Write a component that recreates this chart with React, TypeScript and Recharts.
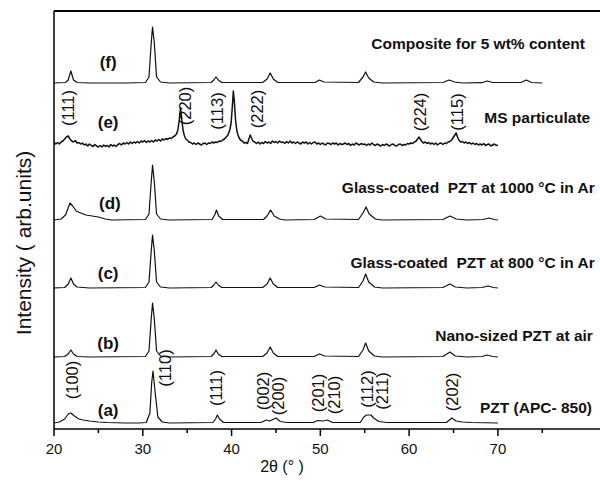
import React from "react";
import { LineChart, Line, XAxis, YAxis, ReferenceLine, ReferenceDot } from "recharts";

type Pt = [number, number];

// 2θ (deg), intensity above each trace's own baseline (arb.)
const traceA: Pt[] = [
  [20, 0], [20.6, 1], [21.2, 4], [21.6, 9], [21.9, 10], [22.3, 7], [22.8, 4], [23.3, 3], [24, 2], [25, 1],
  [26, 0.5], [28, 0], [29.5, 0], [30.4, 0.5], [30.8, 10], [31.0, 40], [31.15, 52], [31.4, 30], [31.7, 6],
  [32.2, 1], [33, 0], [37.9, 0.5], [38.2, 4], [38.4, 8], [38.65, 4], [39.1, 0.5], [43.3, 0.5], [43.9, 3],
  [44.3, 2], [45.0, 5], [45.5, 1.5], [46.2, 0.5], [49.2, 0.5], [49.7, 2.5], [50.3, 2], [50.8, 3], [51.4, 0.5],
  [54.5, 0.5], [54.9, 6], [55.2, 8], [55.7, 8], [56.0, 5], [56.6, 1.5], [57.5, 0.5], [64.2, 0.5], [64.8, 5],
  [65.3, 2], [66, 1], [67, 0.5], [70, 0],
];

const traceB: Pt[] = [
  [20, 0], [21.2, 0.5], [21.6, 3], [21.9, 7], [22.2, 3], [22.6, 0.5], [24, 0], [30.3, 0.5], [30.7, 6],
  [30.95, 38], [31.1, 54], [31.3, 38], [31.55, 6], [32, 1], [33, 0], [37.7, 0.5], [38.0, 3], [38.25, 7],
  [38.5, 3], [38.9, 0.5], [43.5, 0.5], [44.0, 4], [44.35, 10], [44.7, 4], [45.2, 0.5], [49.3, 0.5],
  [49.9, 3], [50.5, 1], [54.3, 0.5], [54.8, 7], [55.1, 14], [55.45, 6], [56.1, 1], [57, 0], [63.8, 0.5],
  [64.6, 5], [65.2, 1], [66.5, 0], [68.2, 0.5], [68.8, 2], [69.4, 0.5], [70, 0],
];

const traceC: Pt[] = [
  [20, 0], [21.2, 0.5], [21.6, 4], [21.9, 10], [22.2, 4], [22.6, 1], [24, 0], [30.3, 0.5], [30.7, 6],
  [30.95, 37], [31.1, 53], [31.3, 37], [31.55, 6], [32, 1], [33, 0], [37.7, 0.5], [38.0, 3], [38.25, 6],
  [38.5, 3], [38.9, 0.5], [43.5, 0.5], [44.0, 4], [44.35, 10], [44.7, 4], [45.2, 0.5], [49.3, 0.5],
  [49.9, 3], [50.5, 1], [54.3, 0.5], [54.8, 7], [55.1, 14], [55.45, 6], [56.1, 1], [57, 0], [63.8, 0.5],
  [64.6, 4], [65.2, 1], [66.5, 0], [68.2, 0.5], [68.9, 2], [69.5, 0.5], [70, 0],
];

const traceD: Pt[] = [
  [20, 0], [20.8, 1], [21.3, 5], [21.8, 17], [22.1, 14], [22.5, 9], [23, 7], [23.6, 5], [24.3, 4], [25, 3],
  [25.8, 1], [26.5, 0], [30.3, 0.5], [30.7, 6], [30.95, 38], [31.1, 55], [31.3, 38], [31.55, 6], [32, 1],
  [33, 0], [37.8, 0.5], [38.1, 5], [38.3, 10], [38.55, 4], [39, 0.5], [43.6, 0.5], [44.0, 4], [44.4, 10],
  [44.8, 4], [45.4, 1], [46, 0], [49.3, 0.5], [50.0, 4], [50.6, 1], [54.3, 0.5], [54.8, 7], [55.15, 13],
  [55.5, 6], [56.2, 1], [57, 0], [63.8, 0.5], [64.6, 4], [65.3, 1], [66.5, 0], [68.3, 0.5], [69, 2],
  [69.6, 0.5], [70, 0],
];

const traceE: Pt[] = [
  [20.0, 3], [20.2, 1], [20.4, 2.5], [20.6, 1], [20.8, 3], [21.0, 4], [21.2, 6], [21.4, 8], [21.6, 9],
  [21.8, 6], [22.0, 4], [22.2, 3], [22.4, 4.5], [22.6, 2], [22.8, 2.5], [23.0, 1], [23.2, 2], [23.4, 0],
  [23.6, 1], [23.8, -1], [24.0, 1], [24.2, -0.5], [24.4, -1.5], [24.6, 0.5], [24.8, -1], [25.0, -2],
  [25.2, -0.5], [25.4, -2], [25.6, 0], [25.8, -1.5], [26.0, -0.5], [26.2, -2], [26.4, 0.5], [26.6, -1],
  [26.8, 0], [27.0, -1.5], [27.2, 0.5], [27.4, 1.5], [27.6, 0], [27.8, 2], [28.0, 1], [28.2, 2.5], [28.4, 1],
  [28.6, 3], [28.8, 1.5], [29.0, 3], [29.2, 2], [29.4, 3.5], [29.6, 2], [29.8, 4], [30.0, 3], [30.2, 4.5],
  [30.4, 2.5], [30.6, 4], [30.8, 3], [31.0, 4.5], [31.2, 3], [31.4, 5], [31.6, 4], [31.8, 5.5], [32.0, 4],
  [32.2, 6], [32.4, 5], [32.6, 6.5], [32.8, 5.5], [33.0, 7], [33.2, 6.5], [33.4, 8], [33.6, 9], [33.8, 11],
  [33.95, 15], [34.1, 24], [34.25, 37], [34.4, 25], [34.55, 14], [34.7, 9], [34.85, 6], [35.0, 5], [35.2, 3],
  [35.4, 2.5], [35.6, 1], [35.8, 2], [36.0, 0.5], [36.2, 2], [36.4, 1], [36.6, 0], [36.8, 1.5], [37.0, 2],
  [37.2, 0.5], [37.4, 2], [37.6, 1.5], [37.8, 3], [38.0, 2], [38.2, 3], [38.4, 2.5], [38.6, 4], [38.8, 3.5],
  [39.0, 5], [39.2, 6], [39.4, 8], [39.6, 10], [39.8, 15], [39.95, 22], [40.1, 40], [40.2, 54], [40.3, 45],
  [40.45, 25], [40.6, 14], [40.8, 8], [41.0, 5], [41.2, 4], [41.4, 2], [41.6, 2.5], [41.8, 1.5], [41.95, 6],
  [42.1, 10], [42.25, 7], [42.4, 4], [42.6, 3], [42.8, 1.5], [43.0, 3], [43.2, 1], [43.4, 2.5], [43.6, 1.5],
  [43.8, 3.5], [44.0, 2], [44.2, 3], [44.4, 1.5], [44.6, 4], [44.8, 2.5], [45.0, 3.5], [45.2, 2], [45.4, 4],
  [45.6, 2.5], [45.8, 3], [46.0, 1.5], [46.2, 3.5], [46.4, 2], [46.6, 4], [46.8, 2], [47.0, 3], [47.2, 1.5],
  [47.4, 3], [47.6, 2], [47.8, 1], [48.0, 3], [48.2, 2], [48.4, 3], [48.6, 1], [48.8, 2.5], [49.0, 1],
  [49.2, 2.5], [49.4, 3], [49.6, 1], [49.8, 2], [50.0, 0.5], [50.2, 2], [50.4, 1], [50.6, 0], [50.8, 2],
  [51.0, 1.5], [51.2, 0.5], [51.4, 2], [51.6, 1], [51.8, 2], [52.0, 0], [52.2, 1.5], [52.4, 0.5], [52.6, 1],
  [52.8, 2], [53.0, 0.5], [53.2, 1.5], [53.4, -0.5], [53.6, 1], [53.8, 0], [54.0, 2], [54.2, 1], [54.4, 0],
  [54.6, 1.5], [54.8, 0.5], [55.0, 1], [55.2, -0.5], [55.4, 1], [55.6, 0], [55.8, 2], [56.0, 0.5],
  [56.2, -0.5], [56.4, 1], [56.6, 0], [56.8, -1], [57.0, 0.5], [57.2, -0.5], [57.4, 1], [57.6, 0],
  [57.8, -1], [58.0, 0.5], [58.2, 1], [58.4, -0.5], [58.6, -1], [58.8, 0.5], [59.0, 1], [59.2, -0.5],
  [59.4, 0.5], [59.6, 0], [59.8, 1.5], [60.0, 1], [60.2, 2], [60.4, 1.5], [60.6, 3], [60.8, 4], [60.95, 6],
  [61.1, 8], [61.25, 6], [61.4, 4], [61.6, 2], [61.8, 3], [62.0, 1.5], [62.2, 2.5], [62.4, 1], [62.6, 2],
  [62.8, 0.5], [63.0, 2], [63.2, 0], [63.4, 1.5], [63.6, 2], [63.8, 0.5], [64.0, 2], [64.2, 1.5], [64.4, 3],
  [64.6, 3.5], [64.8, 5], [65.0, 8], [65.15, 10], [65.3, 12], [65.45, 8], [65.6, 5], [65.8, 3], [66.0, 3.5],
  [66.2, 2], [66.4, 3], [66.6, 1.5], [66.8, 2.5], [67.0, 1], [67.2, 2], [67.4, 0.5], [67.6, 1.5], [67.8, 0],
  [68.0, 1], [68.2, 0], [68.4, 1.5], [68.6, -0.5], [68.8, 0.5], [69.0, 1], [69.2, -1], [69.4, 0], [69.6, 1],
  [69.8, -0.5], [70.0, 0],
];

const traceF: Pt[] = [
  [20, 0], [21.3, 0.5], [21.6, 3], [21.9, 12], [22.2, 3], [22.6, 0.5], [24, 0], [28, 0], [30.3, 0.5],
  [30.7, 6], [30.95, 40], [31.1, 56], [31.3, 40], [31.55, 6], [32, 1], [33, 0], [37.7, 0.5], [38.0, 3],
  [38.25, 6], [38.5, 3], [38.9, 0.5], [43.5, 0.5], [44.0, 4], [44.35, 10], [44.7, 4], [45.2, 0.5],
  [49.4, 0.5], [49.9, 3], [50.4, 1], [54.3, 0.5], [54.8, 6], [55.1, 11], [55.45, 5], [56, 1], [57, 0],
  [63.8, 0.5], [64.5, 3], [65.1, 1], [66, 0], [68.2, 0.3], [68.8, 2], [69.4, 0.5], [72.6, 0.5], [73.2, 3],
  [73.8, 0.5], [75, 0],
];

const traceNames = ["a", "b", "c", "d", "e", "f"];
const traceOffsets = [6, 72, 141, 209, 284, 346];
const tracePoints = [traceA, traceB, traceC, traceD, traceE, traceF];

const curveLetters = [
  { text: "(a)", x: 26.1, y: 19 },
  { text: "(b)", x: 26.1, y: 86 },
  { text: "(c)", x: 26.1, y: 156 },
  { text: "(d)", x: 26.3, y: 226 },
  { text: "(e)", x: 26.1, y: 307 },
  { text: "(f)", x: 26.1, y: 367 },
];

const sampleNames = [
  { text: "PZT (APC- 850)", x: 80.6, y: 22 },
  { text: "Nano-sized PZT at air", x: 80.7, y: 94 },
  { text: "Glass-coated  PZT at 800 °C in Ar", x: 80.9, y: 167 },
  { text: "Glass-coated  PZT at 1000 °C in Ar", x: 80.9, y: 242 },
  { text: "MS particulate", x: 80.4, y: 312 },
  { text: "Composite for 5 wt% content", x: 79.8, y: 386 },
];

const hklLabels = [
  { text: "(111)", x: 21.6, y: 321 },
  { text: "(220)", x: 34.75, y: 323 },
  { text: "(113)", x: 38.36, y: 318 },
  { text: "(222)", x: 42.86, y: 320 },
  { text: "(224)", x: 61.2, y: 317 },
  { text: "(115)", x: 65.4, y: 317 },
  { text: "(100)", x: 22.0, y: 49 },
  { text: "(110)", x: 32.5, y: 61 },
  { text: "(111)", x: 38.2, y: 41 },
  { text: "(002)", x: 43.5, y: 38 },
  { text: "(200)", x: 45.2, y: 33 },
  { text: "(201)", x: 49.7, y: 36 },
  { text: "(210)", x: 51.5, y: 34 },
  { text: "(112)", x: 55.2, y: 40 },
  { text: "(211)", x: 56.9, y: 38 },
  { text: "(202)", x: 64.8, y: 37 },
];

const xTicks = [20, 25, 30, 35, 40, 45, 50, 55, 60, 65, 70, 75];

const FONT = "'Liberation Sans', Arial, Helvetica, sans-serif";
const Y_MAX = 418;

const series = traceNames.map((name, i) => ({
  name,
  data: tracePoints[i].map(([x, v]) => ({ x, y: v + traceOffsets[i] })),
}));

const AxisTick = (props: any) => {
  const { x, y, payload } = props;
  const v = payload.value;
  const major = v % 10 === 0;
  return (
    <g>
      <line x1={x} x2={x} y1={y} y2={y + (major ? 7 : 4)} stroke="#000" strokeWidth={1.5} />
      {major && v <= 70 && (
        <text x={x} y={y + 19} textAnchor="middle" dominantBaseline="central" fontSize={15} fontFamily={FONT} fill="#111">
          {v}
        </text>
      )}
    </g>
  );
};

const TextAt = (props: any) => {
  const { viewBox, text, anchor, bold, rotate, size } = props;
  const x = viewBox.x;
  const y = viewBox.y;
  return (
    <text
      x={x}
      y={y}
      textAnchor={anchor || "middle"}
      dominantBaseline="central"
      fontSize={size}
      fontWeight={bold ? "bold" : "normal"}
      fontFamily={FONT}
      fill="#111"
      style={{ whiteSpace: "pre" }}
      transform={rotate ? `rotate(-90, ${x}, ${y})` : undefined}
    >
      {text}
    </text>
  );
};

export default function App() {
  return (
    <div style={{ position: "absolute", left: 0, top: 0, background: "#fff" }}>
      <LineChart width={600} height={482} margin={{ top: 11, right: 0, bottom: 0, left: 0 }}>
        <XAxis
          type="number"
          dataKey="x"
          domain={[20, 81.5]}
          allowDataOverflow
          ticks={xTicks}
          interval={0}
          height={53}
          tickSize={0}
          tickMargin={0}
          tickLine={false}
          axisLine={{ stroke: "#000", strokeWidth: 1.5 }}
          tick={<AxisTick />}
          label={{
            content: (p: any) => (
              <text
                x={p.viewBox.x + 228}
                y={p.viewBox.y + 37}
                textAnchor="middle"
                dominantBaseline="central"
                fontSize={16}
                fontFamily={FONT}
                fill="#111"
              >
                2θ (° )
              </text>
            ),
          }}
        />
        <YAxis
          type="number"
          dataKey="y"
          domain={[0, Y_MAX]}
          allowDataOverflow
          width={54}
          tick={false}
          tickLine={false}
          axisLine={{ stroke: "#000", strokeWidth: 1.5 }}
          label={{
            content: (p: any) => {
              const cx = p.viewBox.x + 23;
              const cy = p.viewBox.y + 232;
              return (
                <text
                  x={cx}
                  y={cy}
                  textAnchor="middle"
                  dominantBaseline="central"
                  fontSize={21}
                  fontFamily={FONT}
                  fill="#111"
                  transform={`rotate(-90, ${cx}, ${cy})`}
                >
                  Intensity ( arb.units)
                </text>
              );
            },
          }}
        />
        <ReferenceLine y={Y_MAX} stroke="#000" strokeWidth={2} />
        {series.map((s) => (
          <Line
            key={s.name}
            data={s.data}
            dataKey="y"
            type="linear"
            stroke="#111"
            strokeWidth={s.name === "e" ? 1.5 : 1.2}
            strokeLinejoin="round"
            dot={false}
            activeDot={false}
            isAnimationActive={false}
          />
        ))}
        {curveLetters.map((l) => (
          <ReferenceDot key={"c" + l.text} x={l.x} y={l.y} r={0} fill="none" stroke="none"
            label={<TextAt text={l.text} bold size={17} />} />
        ))}
        {sampleNames.map((l) => (
          <ReferenceDot key={"s" + l.text} x={l.x} y={l.y} r={0} fill="none" stroke="none"
            label={<TextAt text={l.text} bold size={15.5} anchor="end" />} />
        ))}
        {hklLabels.map((l, i) => (
          <ReferenceDot key={"h" + i} x={l.x} y={l.y} r={0} fill="none" stroke="none"
            label={<TextAt text={l.text} size={16.5} rotate />} />
        ))}
      </LineChart>
    </div>
  );
}
